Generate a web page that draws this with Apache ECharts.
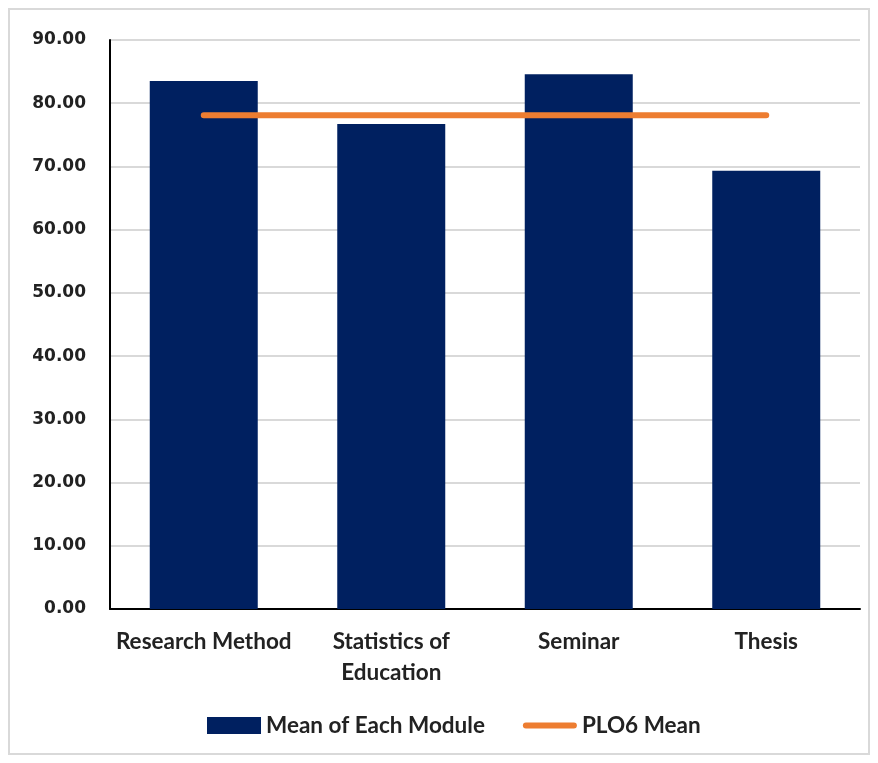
<!DOCTYPE html>
<html><head><meta charset="utf-8">
<script src="https://cdn.jsdelivr.net/npm/echarts@6/dist/echarts.min.js"></script>
<style>html,body{margin:0;padding:0;background:#fff}#frame{position:absolute;left:8px;top:8px;width:862px;height:747px;border:2px solid #d9d9d9;box-sizing:border-box}#c{position:absolute;left:0;top:0;width:878px;height:763px}</style>
</head><body><div id="frame"></div><div id="c"></div>
<script>
const categories = ['Research Method', 'Statistics of\nEducation', 'Seminar', 'Thesis'];
const moduleMeans = [83.5, 76.7, 84.6, 69.3];
const ploMean = [78.1, 78.1, 78.1, 78.1];
const seriesNames = ['Mean of Each Module', 'PLO6 Mean'];

const chart = echarts.init(document.getElementById('c'));
chart.setOption({
  animation: false,
  grid: {left: 110, right: 18, top: 40, bottom: 154},
  legend: {
    bottom: 21, left: 202, itemGap: 38, itemWidth: 54, itemHeight: 17,
    textStyle: {fontFamily: 'Lato', fontWeight: 'bold', fontSize: 22.5, color: '#222'},
    data: [
      {name: seriesNames[0], icon: 'rect'},
      {name: seriesNames[1], icon: 'path://M3,0 H51 A3,3 0 0 1 51,6 H3 A3,3 0 0 1 3,0 Z'}
    ]
  },
  xAxis: {
    type: 'category', data: categories,
    axisLine: {lineStyle: {color: '#000', width: 2}},
    axisTick: {show: false},
    axisLabel: {margin: 17, fontFamily: 'Lato', fontWeight: 'bold', fontSize: 22.5, color: '#222', lineHeight: 31, interval: 0}
  },
  yAxis: {
    type: 'value', min: 0, max: 90, interval: 10,
    axisLine: {show: true, lineStyle: {color: '#000', width: 2}},
    axisTick: {show: false},
    splitLine: {lineStyle: {color: '#d9d9d9', width: 2}},
    axisLabel: {formatter: v => v.toFixed(2), margin: 24, fontFamily: 'DejaVu Sans', fontWeight: 'bold', fontSize: 17, color: '#222'}
  },
  series: [
    {name: seriesNames[0], type: 'bar', data: moduleMeans, barWidth: '57.6%', itemStyle: {color: '#002060'}},
    {name: seriesNames[1], type: 'line', data: ploMean, symbol: 'none', lineStyle: {color: '#ED7D31', width: 6, cap: 'round'}, itemStyle: {color: '#ED7D31'}}
  ]
});
</script></body></html>
